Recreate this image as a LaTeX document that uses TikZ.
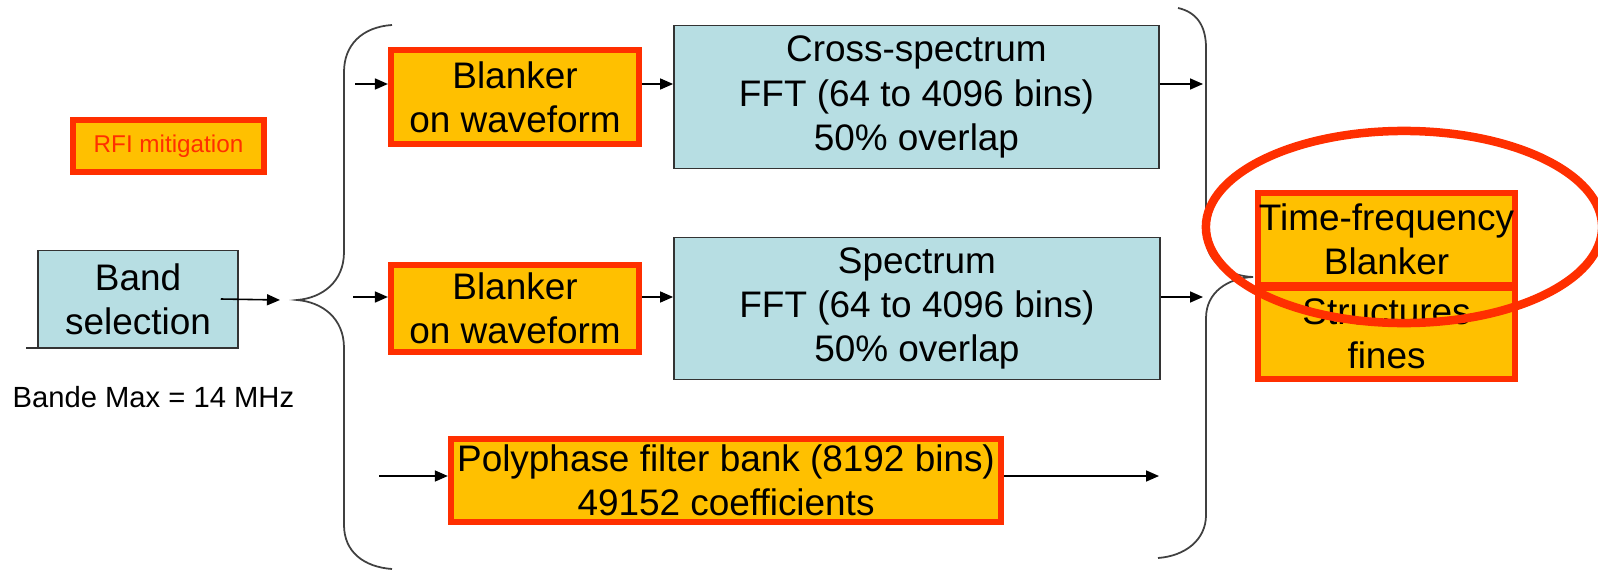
\documentclass[tikz,border=0pt]{standalone}
\usepackage{fontspec}
\setmainfont{Liberation Sans}
\usetikzlibrary{
    positioning,
    arrows.meta}
\definecolor{boxblue}{HTML}{B7DEE3}
\definecolor{amber}{HTML}{FFC000}
\definecolor{rfired}{HTML}{FF2F00}
\definecolor{edgegray}{HTML}{333333}
\tikzset{txt/.style={font=\fontsize{10.5}{12.6}\selectfont, align=center, inner sep=0pt}}
\tikzset{bluebox/.style={txt, draw=edgegray, line width=0.4pt, fill=boxblue}}
\tikzset{rfibox/.style={txt, draw=rfired, line width=0.06cm, fill=amber}}
\tikzset{arr/.style={-{Triangle[length=0.13cm, width=0.11cm]}, line width=0.45pt}}
\tikzset{brace/.style={draw=black!75, line width=0.5pt}}

\begin{document}
\begin{tikzpicture}[x=0.01cm, y=-0.01cm]
    \useasboundingbox (0,0) rectangle (1598,570);

    % legend
    \node(rfi)[rfibox, minimum width=1.91cm, minimum height=0.52cm, font=\fontsize{6.9}{8}\selectfont, text=rfired] at (168.5,146){RFI mitigation};

    % input band
    \node(bsel)[bluebox, minimum width=2cm, minimum height=0.97cm] at (138,299){Band\\selection};
    \draw[draw=edgegray, line width=0.6pt] ([xshift=-0.11cm]bsel.south west) -- (bsel.south east);
    \node(bmax)[anchor=base west, inner sep=0pt, font=\fontsize{8.3}{10}\selectfont] at (12,407){Bande Max = 14 MHz};

    % left brace
    \coordinate(lcusp) at (297,300);
    \draw[brace] (392,25) .. controls (362,27) and (344,45) .. (344,72) -- (344,252)
        .. controls (344,282) and (322,298) .. (lcusp)
        .. controls (322,302) and (344,318) .. (344,348) -- (344,525)
        .. controls (344,552) and (364,567) .. (392,569);
    \draw[arr] ([xshift=-0.18cm]bsel.east) -- ([xshift=-0.17cm]lcusp);

    % top row
    \coordinate(in1) at (355,84);
    \coordinate(out1) at (1203,84);
    \node(blk1)[rfibox, minimum width=2.48cm, minimum height=0.94cm] at (515,97){Blanker\\on waveform};
    \node(csp)[bluebox, minimum width=4.85cm, minimum height=1.43cm, right=0.31cm of blk1]{Cross-spectrum\\FFT (64 to 4096 bins)\\50\% overlap};
    \draw[arr] (in1) -- (in1 -| blk1.west);
    \draw[arr] (in1 -| blk1.east) -- (in1 -| csp.west);
    \draw[arr] (in1 -| csp.east) -- (out1);

    % middle row
    \coordinate(in2) at (353,297);
    \coordinate(out2) at (1203,297);
    \node(blk2)[rfibox, minimum width=2.48cm, minimum height=0.87cm] at (515,308.5){Blanker\\on waveform};
    \node(spc)[bluebox, minimum width=4.86cm, minimum height=1.42cm, right=0.31cm of blk2]{Spectrum\\FFT (64 to 4096 bins)\\50\% overlap};
    \draw[arr] (in2) -- (in2 -| blk2.west);
    \draw[arr] (in2 -| blk2.east) -- (in2 -| spc.west);
    \draw[arr] (in2 -| spc.east) -- (out2);

    % bottom row
    \coordinate(in3) at (379,476);
    \coordinate(out3) at (1159,476);
    \node(pfb)[rfibox, minimum width=5.5cm, minimum height=0.83cm] at (726,480.5){Polyphase filter bank (8192 bins)\\49152 coefficients};
    \draw[arr] (in3) -- (in3 -| pfb.west);
    \draw[arr] (in3 -| pfb.east) -- (out3);

    % right brace
    \coordinate(rcusp) at (1253,277);
    \draw[brace] (1178,8) .. controls (1196,12) and (1206,25) .. (1206,48) -- (1206,238)
        .. controls (1206,262) and (1228,276) .. (rcusp)
        .. controls (1228,278) and (1206,292) .. (1206,318) -- (1206,515)
        .. controls (1206,540) and (1185,556) .. (1158,558);

    % output blankers
    \node(tfb)[rfibox, minimum width=2.57cm, minimum height=0.92cm] at (1386.5,239){Time-frequency\\Blanker};
    \node(sfin)[rfibox, minimum width=2.57cm, minimum height=0.91cm, below=-0.03cm of tfb]{Structures\\fines};

    % red ring
    \draw[draw=rfired, line width=0.085cm] (1404,227) ellipse [x radius=1.98cm, y radius=0.96cm];

\end{tikzpicture}
\end{document}
